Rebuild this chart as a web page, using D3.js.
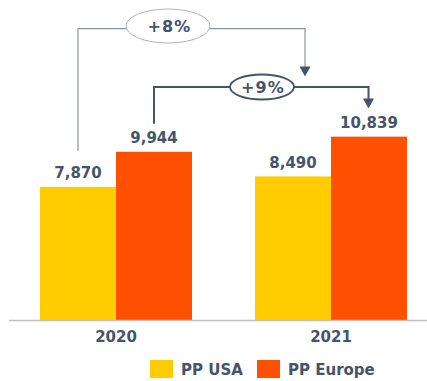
<!DOCTYPE html>
<html>
<head>
<meta charset="utf-8">
<script src="https://cdn.jsdelivr.net/npm/d3@7"></script>
<style>
  html, body { margin: 0; padding: 0; background: #fff; }
  svg { display: block; font-family: "DejaVu Sans", Verdana, sans-serif; font-weight: bold; }
</style>
</head>
<body>
<svg id="chart" width="427" height="381"></svg>
<script>
const categories = ["2020", "2021"];
const seriesNames = ["PP USA", "PP Europe"];
const usaValues = [7870, 8490];
const europeValues = [9944, 10839];
const growthLabels = ["+8%", "+9%"];

const colors = ["#FFCC00", "#FF5000"];
const textColor = "#44546A";

const svg = d3.select("#chart");
const baseY = 320;

const x = d3.scaleBand().domain(categories).range([8.5, 438.5])
  .paddingInner(63 / 215).paddingOuter(63 / 430);
const xs = d3.scaleBand().domain(seriesNames).range([0, x.bandwidth()]);
const y = d3.scaleLinear().domain([0, 12000]).range([baseY, 117]);

const data = categories.map((c, i) => ({
  cat: c,
  vals: [
    { name: seriesNames[0], value: usaValues[i] },
    { name: seriesNames[1], value: europeValues[i] }
  ]
}));

// bars
const g = svg.selectAll("g.grp").data(data).join("g")
  .attr("class", "grp")
  .attr("transform", d => `translate(${x(d.cat)},0)`);

g.selectAll("rect").data(d => d.vals).join("rect")
  .attr("x", d => xs(d.name))
  .attr("width", xs.bandwidth())
  .attr("y", d => y(d.value))
  .attr("height", d => baseY - y(d.value))
  .attr("fill", (d, i) => colors[i]);

g.selectAll("text.val").data(d => d.vals).join("text")
  .attr("class", "val")
  .attr("x", d => xs(d.name) + xs.bandwidth() / 2)
  .attr("y", d => y(d.value) - 8.5)
  .attr("text-anchor", "middle")
  .attr("font-size", 15)
  .attr("fill", textColor)
  .text(d => d3.format(",")(d.value));

// axis
const axis = svg.append("g")
  .attr("transform", `translate(0,${baseY})`)
  .call(d3.axisBottom(x).tickSize(0).tickPadding(11));
axis.select(".domain").attr("stroke", "#C0C0C0").attr("stroke-width", 1.5);
axis.selectAll("text")
  .attr("font-family", "DejaVu Sans, Verdana, sans-serif")
  .attr("font-weight", "bold")
  .attr("font-size", 15)
  .attr("fill", textColor);

// helpers for centers
const cx = (ci, si) => x(categories[ci]) + xs(seriesNames[si]) + xs.bandwidth() / 2;

function arrowHead(tipX, tipY, color) {
  svg.append("path")
    .attr("d", `M${tipX - 5.5},${tipY - 10}L${tipX + 5.5},${tipY - 10}L${tipX},${tipY}Z`)
    .attr("fill", color);
}

// +8% annotation (USA 2020 -> USA 2021)
{
  const x0 = cx(0, 0), x1 = cx(1, 0) + 12;
  const top = 28.7, yStart = y(usaValues[0]) - 36, tip = 76.5;
  svg.append("path")
    .attr("d", `M${x0},${yStart}V${top}H${x1}V${tip - 9}`)
    .attr("fill", "none").attr("stroke", "#8896A4").attr("stroke-width", 1.2);
  arrowHead(x1, tip, textColor);
  const ex = 168, ey = 26;
  svg.append("ellipse").attr("cx", ex).attr("cy", ey).attr("rx", 42).attr("ry", 17)
    .attr("fill", "#fff").attr("stroke", "#AEB4BA").attr("stroke-width", 1);
  svg.append("text").attr("x", ex + 1.5).attr("y", 31.8).attr("text-anchor", "middle")
    .attr("font-size", 16).attr("letter-spacing", 1.2)
    .attr("fill", textColor).text(growthLabels[0]);
}

// +9% annotation (Europe 2020 -> Europe 2021)
{
  const x0 = cx(0, 1), x1 = cx(1, 1) - 0.5;
  const top = 87, yStart = y(europeValues[0]) - 28, tip = 108.5;
  svg.append("path")
    .attr("d", `M${x0},${yStart}V${top}H${x1}V${tip - 9}`)
    .attr("fill", "none").attr("stroke", textColor).attr("stroke-width", 2);
  arrowHead(x1, tip, textColor);
  const ex = 262, ey = 87;
  svg.append("ellipse").attr("cx", ex).attr("cy", ey).attr("rx", 32).attr("ry", 12.5)
    .attr("fill", "#fff").attr("stroke", textColor).attr("stroke-width", 1.8);
  svg.append("text").attr("x", ex + 1).attr("y", 92.7).attr("text-anchor", "middle")
    .attr("font-size", 16).attr("letter-spacing", 1.2)
    .attr("fill", textColor).text(growthLabels[1]);
}

// legend
const legendX = [150, 257];
const lg = svg.selectAll("g.leg").data(seriesNames).join("g")
  .attr("class", "leg")
  .attr("transform", (d, i) => `translate(${legendX[i]},360)`);
lg.append("rect").attr("width", 23).attr("height", 18).attr("fill", (d, i) => colors[i]);
lg.append("text").attr("x", 31).attr("y", 15).attr("font-size", 15)
  .attr("fill", textColor).text(d => d);
</script>
</body>
</html>
